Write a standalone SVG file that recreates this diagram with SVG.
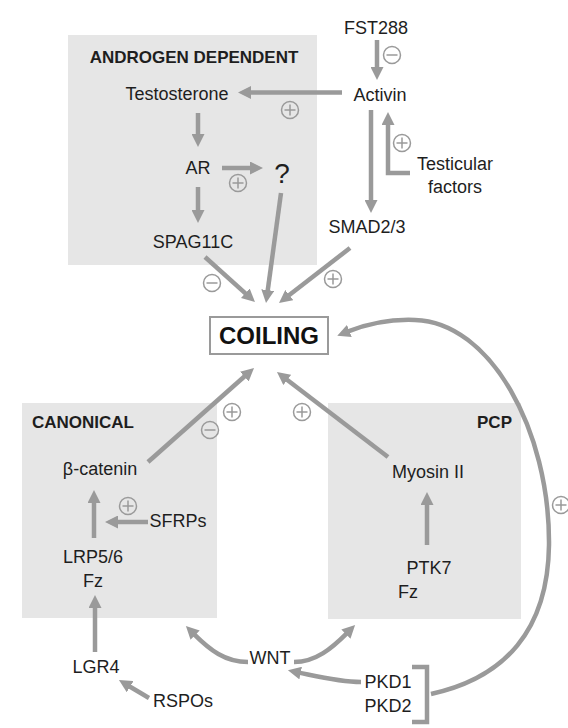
<svg xmlns="http://www.w3.org/2000/svg" width="568" height="728" viewBox="0 0 568 728">
<style>
.box{fill:#e6e6e6;stroke:none}
.t{font-family:"Liberation Sans",Arial,sans-serif;font-size:18px;fill:#1e1e1e;text-anchor:middle}
.b{font-family:"Liberation Sans",Arial,sans-serif;font-size:17px;font-weight:bold;fill:#1e1e1e}
.c{fill:none;stroke:#9a9a9a;stroke-width:4.5}
.a{marker-end:url(#ah)}
.sym circle,.sym path{fill:none;stroke:#9a9a9a;stroke-width:1.5}
</style>
<defs>
<marker id="ah" viewBox="0 0 13 13" refX="2" refY="6.5" markerWidth="13" markerHeight="13" markerUnits="userSpaceOnUse" orient="auto">
<path d="M0,0 L13,6.5 L0,13 z" fill="#9a9a9a"/>
</marker>
<g id="plus" class="sym"><circle r="8.5"/><path d="M-5.5,0H5.5M0,-5.5V5.5"/></g>
<g id="minus" class="sym"><circle r="8.5"/><path d="M-5.5,0H5.5"/></g>
</defs>
<rect width="568" height="728" fill="#ffffff"/>

<g id="androgen-dependent"><rect class="box" x="68" y="35" width="249" height="230"/><text class="b" x="194" y="63" text-anchor="middle">ANDROGEN DEPENDENT</text></g>
<g id="canonical"><rect class="box" x="22" y="403" width="195" height="215"/><text class="b" x="32" y="428">CANONICAL</text></g>
<g id="pcp"><rect class="box" x="328" y="403" width="193" height="216"/><text class="b" x="512" y="428" text-anchor="end">PCP</text></g>

<g id="connectors">
<line class="c a" x1="377" y1="40" x2="377" y2="69"/>
<line class="c a" x1="342" y1="92.5" x2="249" y2="92.5"/>
<polyline class="c a" points="410,173 388,173 388,123"/>
<line class="c a" x1="371" y1="110" x2="371" y2="202"/>
<line class="c a" x1="198" y1="113" x2="198" y2="136"/>
<line class="c a" x1="222" y1="168" x2="252" y2="168"/>
<line class="c a" x1="198" y1="187" x2="198" y2="212"/>
<line class="c a" x1="205" y1="257" x2="246.8" y2="294.6"/>
<line class="c a" x1="281" y1="193" x2="267.5" y2="292.1"/>
<line class="c a" x1="350" y1="248" x2="287.7" y2="296.3"/>
<line class="c a" x1="148" y1="462" x2="245.8" y2="375.3"/>
<line class="c a" x1="388" y1="457" x2="285.7" y2="378.7"/>
<line class="c a" x1="94" y1="538" x2="94" y2="501"/>
<line class="c a" x1="148" y1="522" x2="116" y2="522"/>
<line class="c a" x1="95" y1="652" x2="95" y2="606"/>
<line class="c a" x1="149" y1="698" x2="128.4" y2="685.7"/>
<line class="c a" x1="427" y1="545" x2="427" y2="503"/>
<path class="c a" d="M248,662 C225,662 210,650 193.7,633.8"/>
<path class="c a" d="M294,662 C316,662 332,648 347.3,632.8"/>
<path class="c a" d="M361,682 C340,682 320,677 298.7,672.6"/>
<path class="c a" d="M431,694 C505,678 548,630 549,545 C550,430 490,322 415,320 C390,319 367,324 347.5,331.7"/>
<path class="c" d="M412,667 L427,667 L427,722 L412,722"/>
<use href="#minus" x="392" y="55"/>
<use href="#plus" x="290" y="110"/>
<use href="#plus" x="402" y="143"/>
<use href="#plus" x="238" y="183"/>
<use href="#minus" x="212" y="283"/>
<use href="#plus" x="333" y="279"/>
<use href="#plus" x="232" y="412"/>
<use href="#minus" x="210" y="430"/>
<use href="#plus" x="302" y="412"/>
<use href="#plus" x="128" y="506"/>
<use href="#plus" x="561" y="505"/>
</g>

<g id="fst288"><text class="t" x="376" y="34">FST288</text></g>
<g id="activin"><text class="t" x="380" y="101">Activin</text></g>
<g id="testosterone"><text class="t" x="177" y="100">Testosterone</text></g>
<g id="testicular-factors"><text class="t" x="455" y="170">Testicular</text><text class="t" x="455" y="193">factors</text></g>
<g id="ar"><text class="t" x="198" y="174">AR</text></g>
<g id="unknown"><text class="t" x="282" y="183" style="font-size:28px">?</text></g>
<g id="spag11c"><text class="t" x="193" y="248">SPAG11C</text></g>
<g id="smad23"><text class="t" x="367" y="233">SMAD2/3</text></g>
<g id="coiling"><rect x="210" y="317" width="118" height="37" fill="#ffffff" stroke="#9a9a9a" stroke-width="2"/><text x="269" y="344" text-anchor="middle" style="font-family:'Liberation Sans',Arial,sans-serif;font-size:24px;font-weight:bold;fill:#111">COILING</text></g>
<g id="beta-catenin"><text class="t" x="100" y="475">β-catenin</text></g>
<g id="sfrps"><text class="t" x="178" y="527">SFRPs</text></g>
<g id="lrp-fz"><text class="t" x="93" y="563">LRP5/6</text><text class="t" x="93" y="587">Fz</text></g>
<g id="lgr4"><text class="t" x="96" y="673">LGR4</text></g>
<g id="rspos"><text class="t" x="183" y="707">RSPOs</text></g>
<g id="myosin"><text class="t" x="428" y="478">Myosin II</text></g>
<g id="ptk7-fz"><text class="t" x="429" y="574">PTK7</text><text class="t" x="408" y="598" text-anchor="start">Fz</text></g>
<g id="wnt"><text class="t" x="270" y="664">WNT</text></g>
<g id="pkd"><text class="t" x="388" y="688">PKD1</text><text class="t" x="388" y="712">PKD2</text></g>
</svg>
